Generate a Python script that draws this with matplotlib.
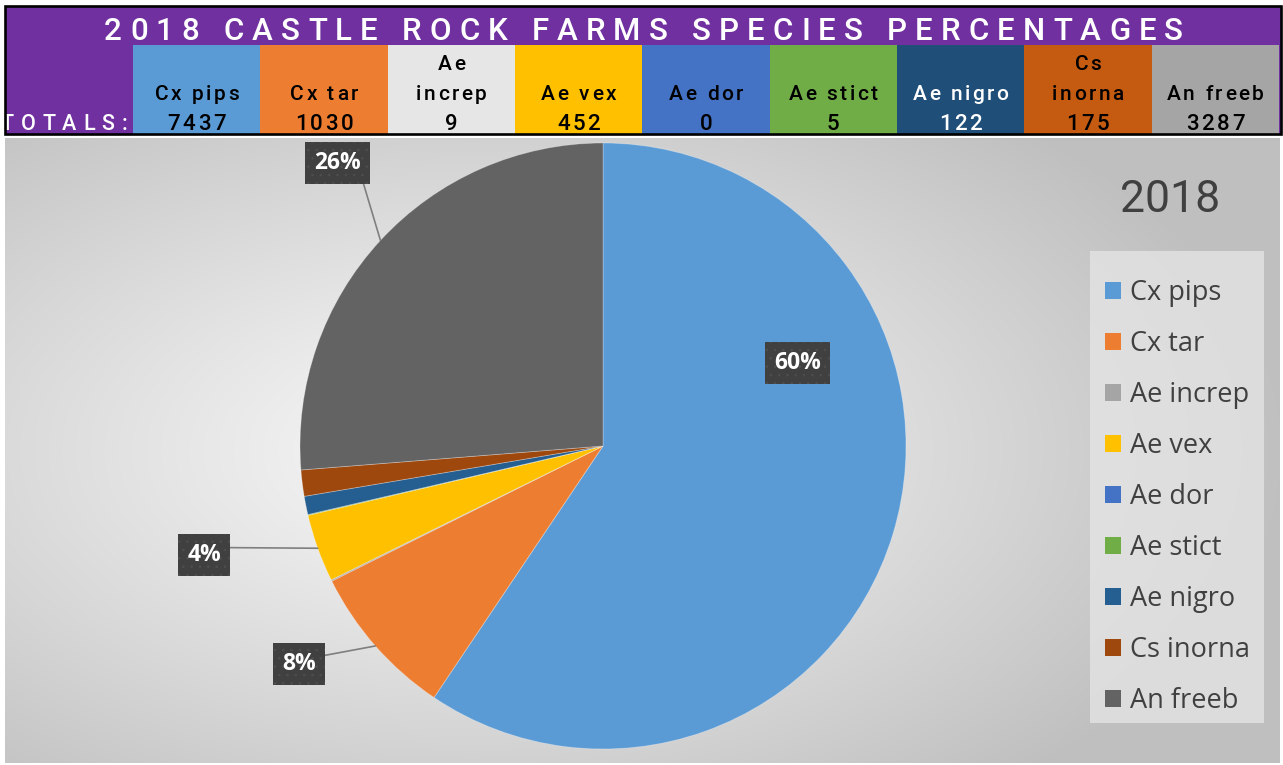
import numpy as np
import matplotlib
matplotlib.use("Agg")
import matplotlib.pyplot as plt
from matplotlib.patches import Rectangle, Patch
from matplotlib.font_manager import FontProperties

# ---- data -------------------------------------------------------------
species = ["Cx pips", "Cx tar", "Ae increp", "Ae vex", "Ae dor",
           "Ae stict", "Ae nigro", "Cs inorna", "An freeb"]
header_names = ["Cx pips", "Cx tar", "Ae\nincrep", "Ae vex", "Ae dor",
                "Ae stict", "Ae nigro", "Cs\ninorna", "An freeb"]
totals = [7437, 1030, 9, 452, 0, 5, 122, 175, 3287]
pct_labels = ["60%", "8%", "", "4%", "", "", "", "", "26%"]
year = "2018"
title = "2018 CASTLE ROCK FARMS SPECIES PERCENTAGES"
totals_caption = "TOTALS:"

pie_colors = ["#5B9BD5", "#ED7D31", "#A5A5A5", "#FFC000", "#4472C4",
              "#70AD47", "#255E91", "#9E480E", "#636363"]
header_colors = ["#5B9BD5", "#ED7D31", "#E7E6E6", "#FFC000", "#4472C4",
                 "#70AD47", "#1F4E79", "#C55A11", "#A5A5A5"]
header_text_colors = ["black", "black", "black", "black", "black",
                      "black", "white", "black", "black"]

plt.rcParams["hatch.linewidth"] = 0.6

# ---- figure / pixel canvas ---------------------------------------------
W, H = 1283, 765
fig = plt.figure(figsize=(W / 100, H / 100), dpi=100, facecolor="white")
bg = fig.add_axes([0, 0, 1, 1])
bg.set_xlim(0, W)
bg.set_ylim(H, 0)
bg.axis("off")
renderer = fig.canvas.get_renderer()

HEAD_FONT = "Roboto"
BODY_FONT = "Open Sans"


def text_width(s, fp):
    return renderer.get_text_width_height_descent(s, fp, ismath=False)[0]


def advances(s, fp):
    """Horizontal advance of every character (measured between two bars)."""
    base = text_width("||", fp)
    return [text_width("|" + c + "|", fp) - base for c in s]


def tracked(x, y, s, size, track, color, ha="center", weight="medium",
            span=None, clip=None, zorder=5):
    """Draw letter-spaced text with its baseline at y (pixel coords)."""
    fp = FontProperties(family=HEAD_FONT, size=size, weight=weight)
    ws = advances(s, fp)
    if span is not None:
        track = (span - sum(ws)) / (len(s) - 1)
    total = sum(ws) + track * (len(s) - 1)
    if ha == "center":
        x0 = x - total / 2
    elif ha == "right":
        x0 = x - total
    else:
        x0 = x
    for c, w in zip(s, ws):
        if c != " ":
            t = bg.text(x0, y, c, fontproperties=fp, color=color, ha="left",
                        va="baseline", zorder=zorder)
            if clip is not None:
                t.set_clip_path(clip)
        x0 += w + track


# ---- chart-area background (radial grey gradient) ----------------------
ys, xs = np.mgrid[138:763, 5:1280]
r = np.sqrt(((xs - 470) / 820.0) ** 2 + ((ys - 450) / 440.0) ** 2)
v = 0.975 - (0.975 - 0.75) * np.clip(r, 0, 1) ** 1.1
bg.imshow(np.dstack([v, v, v]), extent=(5, 1280, 763, 138), aspect="auto",
          interpolation="bilinear", zorder=0)
bg.set_xlim(0, W)
bg.set_ylim(H, 0)

# ---- header table ------------------------------------------------------
left, right, top, bottom = 5, 1281, 6, 134
row2 = 45
band = Rectangle((left, top), right - left, bottom - top, fc="#7030A0",
                 ec="none", zorder=1)
bg.add_patch(band)
cell_x0 = 133
cell_w = (1279 - cell_x0) / len(species)
for i, (name, val) in enumerate(zip(header_names, totals)):
    x0 = cell_x0 + i * cell_w
    bg.add_patch(Rectangle((x0, row2), cell_w, bottom - row2,
                           fc=header_colors[i], ec="none", zorder=2))
    cx = x0 + cell_w / 2
    col = header_text_colors[i]
    lines = name.split("\n")
    if len(lines) == 2:
        tracked(cx, 70, lines[0], 15, 2.5, col)
        tracked(cx, 100, lines[1], 15, 2.5, col)
    else:
        tracked(cx, 100, lines[0], 15, 2.5, col)
    tracked(cx, 130, str(val), 16, 2.5, col)

bg.add_patch(Rectangle((left, top), right - left, bottom - top, fill=False,
                       ec="black", lw=1.9, zorder=6))
tracked(643.5, 40, title, 22.5, 0, "white", span=1079)
tracked(127, 130, totals_caption, 15.5, 6.8, "white", ha="right", clip=band)

# ---- pie ---------------------------------------------------------------
pcx, pcy, pr = 603, 446, 303
pie_ax = fig.add_axes([(pcx - pr) / W, (H - pcy - pr) / H,
                       2 * pr / W, 2 * pr / H])
wedges, _ = pie_ax.pie(totals, colors=pie_colors, startangle=90,
                       counterclock=False, radius=1,
                       wedgeprops=dict(edgecolor=(1, 1, 1, 0.3),
                                       linewidth=0.6))
pie_ax.set_xlim(-1, 1)
pie_ax.set_ylim(-1, 1)
pie_ax.set_aspect("auto")


def to_pie(px, py):
    return (px - pcx) / pr, (pcy - py) / pr


# label box centres (pixels) and where each leader leaves its box
label_boxes = {0: (797.5, 363), 1: (299, 664), 3: (204, 555), 8: (337.5, 163)}
leader_rel = {1: (1, 0.79), 3: (1, 0.81), 8: (1, 0)}

box_style = dict(boxstyle="square,pad=0.4", fc="#404040", ec="#4E4E4E",
                 lw=0, hatch="..")
for i, txt in enumerate(pct_labels):
    if not txt:
        continue
    w = wedges[i]
    mid = np.deg2rad((w.theta1 + w.theta2) / 2)
    edge = (np.cos(mid), np.sin(mid))
    tx, ty = to_pie(*label_boxes[i])
    kw = {}
    if i in leader_rel:
        kw["arrowprops"] = dict(arrowstyle="-", color="#7F7F7F", lw=1.2,
                                shrinkA=0, shrinkB=0, relpos=leader_rel[i])
    pie_ax.annotate(txt, xy=edge, xytext=(tx, ty), ha="center", va="center",
                    fontfamily=BODY_FONT, fontweight="bold", fontsize=16.5,
                    color="white", bbox=box_style, annotation_clip=False,
                    zorder=10, **kw)

# ---- chart title and legend -------------------------------------------
bg.text(1170, 212, year, family="Roboto", fontsize=32, color="#404040",
        ha="center", va="baseline", zorder=5)

bg.add_patch(Rectangle((1090, 251), 174, 472, fc="#E6E6E6", alpha=0.75,
                       ec="none", zorder=3))
handles = [Patch(fc=c, ec="none") for c in pie_colors]
fig.legend(handles, species, loc="upper left",
           bbox_to_anchor=(1105 / W, 1 - 279 / H),
           bbox_transform=fig.transFigure, frameon=False,
           prop=FontProperties(family=BODY_FONT, size=19.5),
           labelcolor="#404040", handlelength=0.6, handleheight=0.6,
           handletextpad=0.33, labelspacing=0.85, borderpad=0,
           borderaxespad=0)

fig.savefig("out.png", dpi=100, facecolor="white")
